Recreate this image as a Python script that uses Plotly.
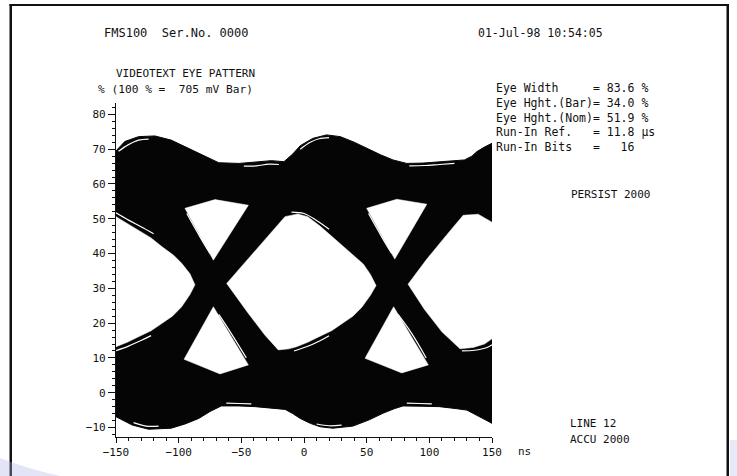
import plotly.graph_objects as go

# ---- accumulated eye pattern (2000 traces), time in ns, level in % of bar ----
# outer envelope of all traces
top_ns = [-150, -143, -132, -119, -106, -90, -79, -68, -52, -26, -16, -9, -3, 7, 18, 29, 40, 50, 61, 71, 82, 95, 108, 120, 128, 134, 138, 144, 150]
top_pct = [69.5, 72.2, 73.6, 73.8, 72.6, 69.8, 67.8, 66.1, 65.9, 66.7, 66.4, 68.6, 71.0, 73.1, 74.1, 73.6, 72.0, 70.2, 68.4, 66.9, 65.9, 66.0, 66.4, 66.7, 66.9, 68.0, 69.3, 70.6, 71.7]
bottom_ns = [-150, -137, -124, -106, -95, -84, -75, -66, -52, -39, -15, -9, -3, 5, 13, 23, 39, 52, 63, 72, 79, 95, 108, 122, 130, 140, 150]
bottom_pct = [-6.9, -9.3, -10.5, -10.2, -9.0, -7.4, -5.4, -3.8, -3.8, -4.0, -4.8, -6.0, -7.4, -8.8, -9.8, -10.2, -9.6, -7.8, -5.9, -4.6, -3.8, -3.9, -4.0, -4.6, -5.0, -6.8, -8.8]

# open areas inside the envelope
left_eye_ns = [-150, -140, -132, -122, -113.5, -104, -97.6, -91, -87, -91, -97.6, -105, -113.5, -122, -132, -141, -150]
left_eye_pct = [50.6, 48.5, 46.8, 44.5, 42.0, 39.5, 37.2, 34.2, 31.0, 28.2, 24.7, 22.0, 19.9, 17.8, 16.1, 14.5, 13.2]

centre_eye_ns = [-61.7, -44.4, -28.5, -15.2, -5, 3, 12.8, 22, 31.4, 40, 47.3, 53, 57.5, 53, 46, 39, 30.5, 22, 12, 3, -6, -12, -20.5, -31.1, -44.4]
centre_eye_pct = [31.4, 38.6, 45.3, 50.6, 51.4, 50.6, 47.9, 45.0, 42.0, 39.5, 37.0, 34.0, 30.8, 28.0, 24.5, 22.0, 19.9, 17.8, 16.1, 14.5, 13.2, 12.6, 12.3, 16.5, 22.8]

right_eye_ns = [83.0, 98, 113, 127, 139, 150, 150, 144, 135, 124.5, 110, 96]
right_eye_pct = [31.2, 38.4, 45.0, 51.0, 51.3, 49.0, 15.5, 14.0, 13.0, 12.6, 17.5, 24.0]

up_tri_left_ns = [-95, -71, -44.4, -72.3]
up_tri_left_pct = [53.0, 55.5, 53.9, 38.1]
up_tri_right_ns = [50, 74, 98, 72.4]
up_tri_right_pct = [53.0, 55.6, 54.2, 38.4]

low_tri_left_ns = [-72.3, -44.4, -67, -95.7]
low_tri_left_pct = [24.7, 8.0, 5.4, 9.6]
low_tri_right_ns = [71.5, 99.2, 78, 48.7]
low_tri_right_pct = [24.7, 8.0, 5.7, 9.9]

# a few stray traces that stand apart from the bundle edges
stray_traces = [
    ([-148, -140, -132, -124], [69.4, 71.3, 72.6, 72.9]),
    ([-3, 5, 12, 20], [70.0, 72.0, 73.0, 73.3]),
    ([-48, -38, -28, -20], [65.1, 65.2, 65.7, 65.6]),
    ([84, 96, 108, 120], [65.2, 65.3, 65.6, 65.9]),
    ([-150, -140, -130, -120], [51.7, 49.6, 47.7, 45.7]),
    ([-10, 0, 10, 20], [51.9, 51.5, 49.5, 47.0]),
    ([-150, -140, -130, -122], [12.1, 13.4, 15.0, 16.4]),
    ([-8, 2, 12, 20], [12.0, 13.2, 14.8, 16.4]),
    ([126, 136, 146, 150], [12.0, 12.2, 13.0, 13.8]),
    ([-136, -126, -116], [-8.6, -9.6, -9.6]),
    ([10, 20, 30], [-9.0, -9.5, -9.3]),
    ([-62, -52, -42], [-3.0, -3.1, -3.2]),
    ([82, 92, 102], [-3.0, -3.1, -3.2]),
    ([-93.5, -83, -75], [51.5, 44.8, 40.0]),
    ([51.5, 62, 70], [51.5, 44.8, 40.0]),
    ([-46, -58, -68], [10.0, 17.0, 22.5]),
    ([97.5, 86, 75], [10.0, 17.0, 22.5]),
]

x_ticks = [-150, -100, -50, 0, 50, 100, 150]
y_ticks = [-10, 0, 10, 20, 30, 40, 50, 60, 70, 80]

header_left = "FMS100  Ser.No. 0000"
header_right = "01-Jul-98 10:54:05"
title_lines = ["VIDEOTEXT EYE PATTERN", "% (100 % =  705 mV Bar)"]
stats_lines = [
    "Eye Width     = 83.6 %",
    "Eye Hght.(Bar)= 34.0 %",
    "Eye Hght.(Nom)= 51.9 %",
    "Run-In Ref.   = 11.8 µs",
    "Run-In Bits   =   16",
]
persist_text = "PERSIST 2000"
footer_lines = ["LINE 12", "ACCU 2000"]
x_unit = "ns"

INK = "#111111"
MONO = "DejaVu Sans Mono, Liberation Mono, monospace"

W, H = 737, 476
L, R, T, B = 116, 245, 103, 39
PW, PH = W - L - R, H - T - B


def px(x):
    return (x - L) / PW


def py(y):
    return (H - B - y) / PH


def keep_spaces(s):
    return s.replace(" ", "\u00a0")


def closed(xs, ys):
    return list(xs) + [xs[0]], list(ys) + [ys[0]]


fig = go.Figure()

# the dense bundle of traces
env_x = top_ns + bottom_ns[::-1]
env_y = top_pct + bottom_pct[::-1]
fig.add_trace(go.Scatter(x=env_x, y=env_y, mode="lines", fill="toself",
                         fillcolor="#050505", line=dict(color="#050505", width=1),
                         hoverinfo="skip", showlegend=False))

# openings of the eye
for xs, ys in [(left_eye_ns, left_eye_pct), (centre_eye_ns, centre_eye_pct),
               (right_eye_ns, right_eye_pct), (up_tri_left_ns, up_tri_left_pct),
               (up_tri_right_ns, up_tri_right_pct), (low_tri_left_ns, low_tri_left_pct),
               (low_tri_right_ns, low_tri_right_pct)]:
    cx, cy = closed(xs, ys)
    fig.add_trace(go.Scatter(x=cx, y=cy, mode="lines", fill="toself",
                             fillcolor="white", line=dict(color="white", width=0.5),
                             hoverinfo="skip", showlegend=False))

# gaps that separate stray traces from the bundle
for xs, ys in stray_traces:
    fig.add_trace(go.Scatter(x=xs, y=ys, mode="lines",
                             line=dict(color="white", width=1.2, shape="spline"),
                             hoverinfo="skip", showlegend=False))

axis_common = dict(showgrid=False, zeroline=False, showline=True, linecolor=INK,
                   linewidth=1.2, ticks="outside", tickcolor=INK, tickwidth=1,
                   tickfont=dict(family=MONO, size=11, color=INK), mirror=False)

fig.update_xaxes(range=[-150, 150], tickvals=x_ticks, ticklen=5,
                 minor=dict(dtick=10, ticks="outside", ticklen=3, tickcolor=INK),
                 **axis_common)
fig.update_yaxes(range=[-12.73, 83.27], tickvals=y_ticks, ticklen=7,
                 minor=dict(dtick=2, ticks="outside", ticklen=3, tickcolor=INK),
                 **axis_common)

annotations = []


def add_text(text, x, y, size=11):
    annotations.append(dict(text=keep_spaces(text), x=px(x), y=py(y), xref="paper",
                            yref="paper", xanchor="left", yanchor="middle",
                            showarrow=False, font=dict(family=MONO, size=size, color=INK)))


add_text(header_left, 102, 33, 12)
add_text(header_right, 476, 33, 11.5)
add_text(title_lines[0], 114, 73, 11)
add_text(title_lines[1], 96, 90, 11.2)
for i, line in enumerate(stats_lines):
    add_text(line, 494, 88 + 14.8 * i, 11.5)
add_text(persist_text, 569, 194, 11)
add_text(footer_lines[0], 568, 423, 11)
add_text(footer_lines[1], 568, 439, 11)
add_text(x_unit, 516, 451, 11)

# page frame (solid bars) and the tinted scanner margin at the lower corners
def bar(x0, x1, y0, y1):
    return dict(type="rect", xref="paper", yref="paper", x0=px(x0), x1=px(x1),
                y0=py(y1), y1=py(y0), fillcolor=INK, line=dict(width=0), layer="above")


shapes = [
    bar(9.5, 12, 4, 476),
    bar(726.5, 729, 4, 476),
    bar(9.5, 729, 4, 6),
    dict(type="path", xref="paper", yref="paper",
         path=f"M {px(0)} {py(458)} Q {px(25)} {py(468)} {px(60)} {py(476)} L {px(0)} {py(476)} Z",
         fillcolor="rgba(175,180,232,0.35)", line=dict(width=0)),
    dict(type="rect", xref="paper", yref="paper", x0=px(730), x1=px(737), y0=py(440), y1=py(476),
         fillcolor="rgba(175,180,232,0.3)", line=dict(width=0)),
]

fig.update_layout(width=W, height=H, margin=dict(l=L, r=R, t=T, b=B),
                  paper_bgcolor="white", plot_bgcolor="white",
                  annotations=annotations, shapes=shapes, showlegend=False)

fig.write_html("out.html")
